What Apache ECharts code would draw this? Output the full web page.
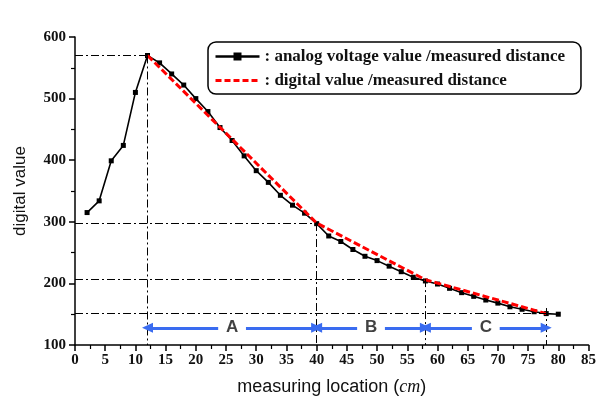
<!DOCTYPE html>
<html>
<head>
<meta charset="utf-8">
<script src="https://cdn.jsdelivr.net/npm/echarts@6/dist/echarts.min.js"></script>
<style>html,body{margin:0;padding:0;background:#fff;}#c{width:599px;height:405px;}</style>
</head>
<body>
<div id="c"></div>
<script>
var distance = [2,4,6,8,10,12,14,16,18,20,22,24,26,28,30,32,34,36,38,40,42,44,46,48,50,52,54,56,58,60,62,64,66,68,70,72,74,76,78,80];
var analog = [315,334,399,424,510,570,558,540,522,500,479,453,432,407,383,364,343,327,314,297,277,268,255,244,237,228,219,210,204,199,192,185,179,173,168,162,158,154,151,150];
var digitalX = [12,40,58,78];
var digitalY = [570,298,206,151];
var refLevels = [570,298,207,152];
var regionNames = ['A','B','C'];
var arrowLevel = 128;
var xTicks = {min:0, max:85, interval:5};
var yTicks = {min:100, max:600, interval:100};

var serif = '"Liberation Serif","Times New Roman",serif';
var sans = '"Liberation Sans",Arial,sans-serif';
var dashDot = [8,3,2,3];

var refLines = [];
for (var i = 0; i < digitalX.length; i++) {
  refLines.push([{coord:[xTicks.min, refLevels[i]]},{coord:[digitalX[i], refLevels[i]]}]);
  var topV = (i === digitalX.length - 1) ? refLevels[i] + 8 : refLevels[i];
  refLines.push([{coord:[digitalX[i], topV]},{coord:[digitalX[i], yTicks.min]}]);
}
var gapHalf = 2.3;
var arrowSegs = [];
var labelPts = [];
for (var j = 0; j < regionNames.length; j++) {
  var a = digitalX[j], b = digitalX[j+1], m = (a + b) / 2;
  arrowSegs.push([{coord:[a, arrowLevel], symbol:'triangle'},{coord:[m - gapHalf, arrowLevel], symbol:'none'}]);
  arrowSegs.push([{coord:[m + gapHalf, arrowLevel], symbol:'none'},{coord:[b, arrowLevel], symbol:'triangle'}]);
  labelPts.push({value:[m, arrowLevel], name:regionNames[j]});
}

var nameA = 'analog voltage value /measured distance';
var nameD = 'digital value /measured distance';

var chart = echarts.init(document.getElementById('c'), null, {renderer:'canvas'});
chart.setOption({
  animation:false,
  backgroundColor:'#fff',
  grid:{left:75, right:5, top:37, bottom:60},
  legend:{
    orient:'vertical', left:208, top:42,
    data:[{name:nameA, lineStyle:{width:2.5}}, {name:nameD, itemStyle:{opacity:0}, lineStyle:{width:3, type:[6,3]}}],
    itemWidth:44, itemHeight:10, itemGap:7,
    padding:[6,16,5,6],
    borderColor:'#000', borderWidth:1.5, borderRadius:8,
    formatter:function(n){return ': ' + n;},
    textStyle:{fontFamily:serif, fontWeight:'bold', fontSize:17, color:'#111'}
  },
  xAxis:{
    type:'value', min:xTicks.min, max:xTicks.max, interval:xTicks.interval,
    name:'{n|measuring location (}{i|cm}{n|)}', nameLocation:'middle', nameGap:33,
    nameTextStyle:{rich:{n:{fontFamily:sans, fontSize:18, color:'#111'}, i:{fontFamily:serif, fontStyle:'italic', fontSize:18, color:'#111'}}},
    axisLine:{lineStyle:{color:'#000', width:1.5}},
    axisTick:{length:6, lineStyle:{color:'#000', width:1.5}},
    minorTick:{show:true, splitNumber:2, length:4, lineStyle:{color:'#000', width:1.2}},
    splitLine:{show:false},
    axisLabel:{fontFamily:serif, fontWeight:'bold', fontSize:15, color:'#111', margin:8}
  },
  yAxis:{
    type:'value', min:yTicks.min, max:yTicks.max, interval:yTicks.interval,
    name:'digital value', nameLocation:'middle', nameGap:46,
    nameTextStyle:{fontFamily:sans, fontSize:17, color:'#111'},
    axisLine:{show:true, lineStyle:{color:'#000', width:1.5}},
    axisTick:{show:true, length:6, lineStyle:{color:'#000', width:1.5}},
    minorTick:{show:true, splitNumber:2, length:4, lineStyle:{color:'#000', width:1.2}},
    splitLine:{show:false},
    axisLabel:{fontFamily:serif, fontWeight:'bold', fontSize:15, color:'#111', margin:9}
  },
  series:[
    {
      type:'line', name:'refs', data:[], silent:true,
      markLine:{silent:true, symbol:'none', label:{show:false},
        lineStyle:{color:'#000', width:1, type:dashDot}, data:refLines}
    },
    {
      type:'line', name:'arrows', data:[], silent:true,
      markLine:{silent:true, symbol:'none', symbolSize:[10,11], label:{show:false},
        lineStyle:{color:'#3a6cf0', width:3, type:'solid'}, data:arrowSegs}
    },
    {
      type:'scatter', name:'labels', data:labelPts, symbolSize:0, silent:true,
      label:{show:true, position:'inside', formatter:function(p){return p.name;},
        fontFamily:sans, fontWeight:'bold', fontSize:17, color:'#111'}
    },
    {
      type:'line', name:nameA,
      data:distance.map(function(x,k){return [x, analog[k]];}),
      symbol:'rect', symbolSize:5, showSymbol:true,
      lineStyle:{color:'#000', width:1.6}, itemStyle:{color:'#000'}, z:3
    },
    {
      type:'line', name:nameD,
      data:digitalX.map(function(x,k){return [x, digitalY[k]];}),
      symbol:'none', lineStyle:{color:'#ff0000', width:3, type:[7,3]}, itemStyle:{color:'#ff0000'}, z:4
    }
  ]
});
</script>
</body>
</html>
